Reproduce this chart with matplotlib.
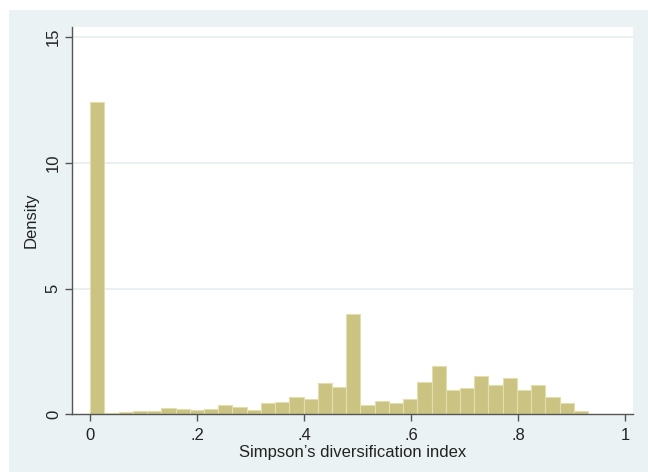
import matplotlib.pyplot as plt
from matplotlib.patches import Rectangle
import numpy as np

# density per bin (35 bins starting at 0)
density = [12.4, 0.05, 0.08, 0.12, 0.12, 0.27, 0.23, 0.16, 0.21, 0.35,
           0.29, 0.17, 0.45, 0.49, 0.69, 0.61, 1.23, 1.09, 3.97, 0.36,
           0.52, 0.45, 0.60, 1.28, 1.92, 0.95, 1.03, 1.53, 1.17, 1.44,
           0.97, 1.15, 0.69, 0.43, 0.13]
bin_start = 0.0
bin_width = 0.0266

x_ticks = [0, 0.2, 0.4, 0.6, 0.8, 1]
x_labels = ["0", ".2", ".4", ".6", ".8", "1"]
y_ticks = [0, 5, 10, 15]
y_labels = ["0", "5", "10", "15"]

plt.rcParams['font.family'] = ['Liberation Sans', 'DejaVu Sans']

region_col = '#EAF2F3'
bar_col = '#CBC382'
edge_col = '#E3DEAE'
axis_col = '#555555'

fig = plt.figure(figsize=(6.48, 4.72), dpi=100, facecolor='white')
# stata graph region
fig.patches.append(Rectangle((9 / 648, 0), 1 - 9 / 648, 462 / 472,
                             transform=fig.transFigure, facecolor=region_col,
                             edgecolor='none', zorder=-1))

ax = fig.add_axes([72 / 648, 1 - 414.3 / 472, 561 / 648, 387.3 / 472])
ax.set_facecolor('white')

edges = bin_start + bin_width * np.arange(len(density))
ax.bar(edges, density, width=bin_width, align='edge', color=bar_col,
       edgecolor=edge_col, linewidth=0.8, zorder=2)

ax.set_xlim(-0.034, 1.015)
ax.set_ylim(0, 15.4)

for y in y_ticks[1:]:
    ax.axhline(y, color='#E4EEF0', linewidth=1.2, zorder=1)

ax.set_xticks(x_ticks)
ax.set_xticklabels(x_labels)
ax.set_yticks(y_ticks)
ax.set_yticklabels(y_labels, rotation=90, va='center')
ax.tick_params(axis='both', direction='out', length=5, width=1,
               color=axis_col, labelsize=12, labelcolor='#222222', pad=5)
ax.tick_params(axis='y', pad=3)

for s in ['top', 'right']:
    ax.spines[s].set_visible(False)
for s in ['left', 'bottom']:
    ax.spines[s].set_color(axis_col)
    ax.spines[s].set_linewidth(1)

ax.set_xlabel("Simpson\u2019s diversification index", fontsize=12,
              color='#222222', labelpad=1)
ax.set_ylabel("Density", fontsize=12, color='#222222', labelpad=5)

fig.savefig('out.png', dpi=100, facecolor='white')
